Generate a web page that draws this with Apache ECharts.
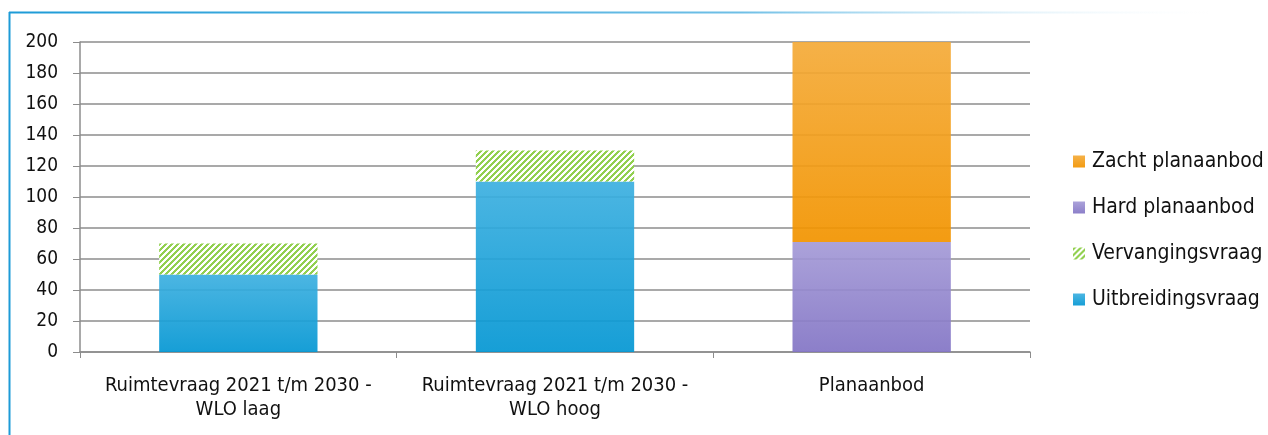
<!DOCTYPE html>
<html>
<head>
<meta charset="utf-8">
<script src="https://cdn.jsdelivr.net/npm/echarts@6/dist/echarts.min.js"></script>
<style>
html,body{margin:0;padding:0;background:#fff;}
#chart{width:1268px;height:435px;}
</style>
</head>
<body>
<div id="chart"></div>
<script type="text/javascript">
var categories = ['Ruimtevraag 2021 t/m 2030 -\nWLO laag', 'Ruimtevraag 2021 t/m 2030 -\nWLO hoog', 'Planaanbod'];
var uitbreiding = [50, 110, '-'];
var vervanging = [20, 20, '-'];
var hardAanbod = ['-', '-', 71];
var zachtAanbod = ['-', '-', 129];
var yTicks = [0, 200, 20]; // min, max, interval

var font = '"DejaVu Sans Condensed", "Liberation Sans Narrow", sans-serif';

// groen gestreept patroon voor vervangingsvraag
function makeHatch() {
	var c = document.createElement('canvas');
	c.width = 6; c.height = 6;
	var ctx = c.getContext('2d');
	var img = ctx.createImageData(6, 6);
	for (var y = 0; y < 6; y++) {
		for (var x = 0; x < 6; x++) {
			var i = (y * 6 + x) * 4;
			var g = ((x + y) % 6) < 3;
			img.data[i] = g ? 146 : 255;
			img.data[i + 1] = g ? 208 : 255;
			img.data[i + 2] = g ? 80 : 255;
			img.data[i + 3] = 255;
		}
	}
	ctx.putImageData(img, 0, 0);
	return c;
}

function grad(top, bottom) {
	return new echarts.graphic.LinearGradient(0, 0, 0, 1, [
		{offset: 0, color: top},
		{offset: 1, color: bottom}
	]);
}

var myChart = echarts.init(document.getElementById('chart'));
myChart.setOption({
	animation: false,
	textStyle: {fontFamily: font},
	graphic: [
		{type: 'line', shape: {x1: 9.5, y1: 12, x2: 9.5, y2: 435}, style: {stroke: '#1d9bd7', lineWidth: 2}},
		{type: 'line', shape: {x1: 9, y1: 12.5, x2: 1230, y2: 12.5}, style: {
			stroke: new echarts.graphic.LinearGradient(0, 0, 1, 0, [
				{offset: 0, color: '#1d9bd7'},
				{offset: 0.6, color: '#6fbfe6'},
				{offset: 1, color: 'rgba(255,255,255,0)'}
			], false), lineWidth: 2}}
	],
	grid: {left: 80, right: 238, top: 42, bottom: 83},
	legend: {
		orient: 'vertical',
		left: 1073,
		top: 151,
		padding: 0,
		itemWidth: 12,
		itemHeight: 12,
		itemGap: 25,
		icon: 'rect',
		data: ['Zacht planaanbod', 'Hard planaanbod', 'Vervangingsvraag', 'Uitbreidingsvraag'],
		textStyle: {fontSize: 21, lineHeight: 20, color: '#111', fontFamily: font, padding: [0, 0, 0, 2]}
	},
	xAxis: {
		type: 'category',
		data: categories,
		axisLine: {lineStyle: {color: '#8c8c8c', width: 1.5}},
		axisTick: {show: true, interval: 0, length: 6, lineStyle: {color: '#8c8c8c'}},
		axisLabel: {interval: 0, fontSize: 20, color: '#111', lineHeight: 24, margin: 22, fontFamily: font}
	},
	yAxis: {
		type: 'value',
		min: yTicks[0],
		max: yTicks[1],
		interval: yTicks[2],
		axisLine: {show: true, lineStyle: {color: '#8c8c8c', width: 1.5}},
		axisTick: {show: true, length: 7, lineStyle: {color: '#8c8c8c'}},
		axisLabel: {fontSize: 19, color: '#111', margin: 22, fontFamily: font},
		splitLine: {lineStyle: {color: '#8c8c8c', width: 1.5}}
	},
	series: [
		{
			name: 'Uitbreidingsvraag', type: 'bar', stack: 'tot', barWidth: '50%',
			data: uitbreiding,
			itemStyle: {color: grad('#3eb0e0', '#0597d3'), opacity: 0.93}
		},
		{
			name: 'Vervangingsvraag', type: 'bar', stack: 'tot', barWidth: '50%',
			data: vervanging,
			itemStyle: {color: {image: makeHatch(), repeat: 'repeat'}}
		},
		{
			name: 'Hard planaanbod', type: 'bar', stack: 'tot', barWidth: '50%',
			data: hardAanbod,
			itemStyle: {color: grad('#a59bd7', '#8375c5'), opacity: 0.93}
		},
		{
			name: 'Zacht planaanbod', type: 'bar', stack: 'tot', barWidth: '50%',
			data: zachtAanbod,
			itemStyle: {color: grad('#f4ab3a', '#f29400'), opacity: 0.93}
		}
	]
});
</script>
</body>
</html>
